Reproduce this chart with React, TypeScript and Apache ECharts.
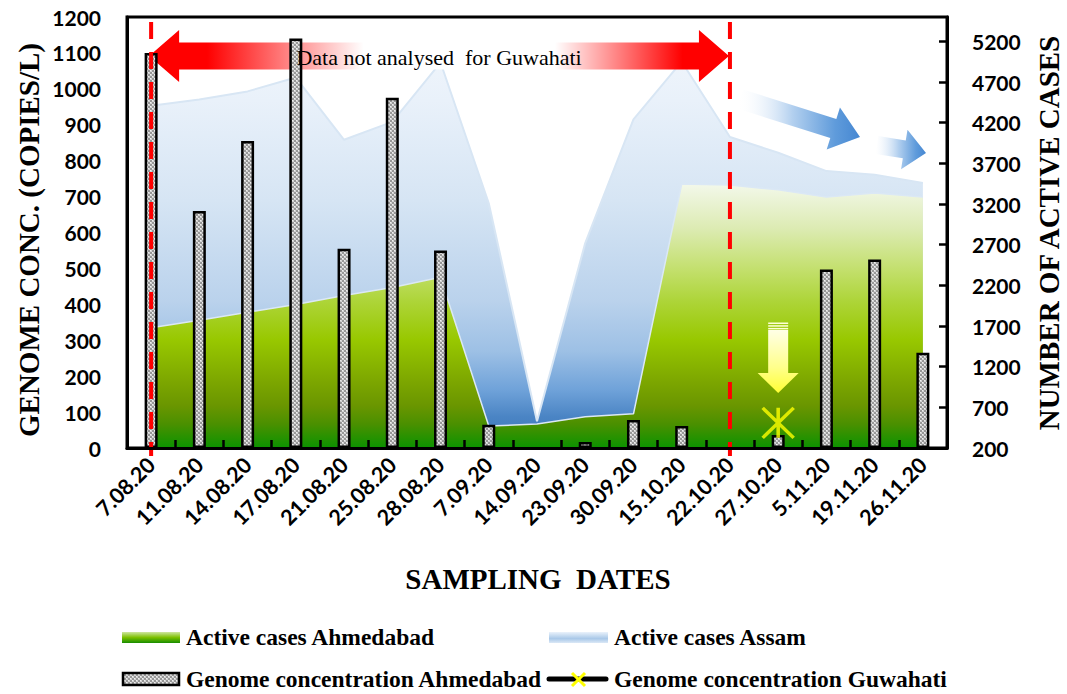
import React, { useEffect, useRef } from "react";
import * as echarts from "echarts";

const dates = [
  "7.08.20", "11.08.20", "14.08.20", "17.08.20", "21.08.20", "25.08.20", "28.08.20",
  "7.09.20", "14.09.20", "23.09.20", "30.09.20", "15.10.20", "22.10.20", "27.10.20",
  "5.11.20", "19.11.20", "26.11.20",
];
// Genome concentration (copies/L), left axis
const genomeAhmedabad = [1100, 660, 855, 1140, 555, 975, 550, 65, null, 17, 78, 61, null, 36, 497, 525, 265];
const genomeGuwahati = [null, null, null, null, null, null, null, null, null, null, null, null, null, 70, null, null, null];
// Active cases, right axis
const activeAhmedabad = [1680, 1770, 1870, 1965, 2075, 2175, 2300, 470, 495, 585, 620, 3445, 3435, 3375, 3285, 3335, 3285];
const activeAssam = [4410, 4485, 4585, 4755, 3990, 4210, 4940, 3210, 530, 2720, 4240, 4950, 4025, 3830, 3605, 3560, 3460];
// Axis scales
const leftAxisRange = [0, 1200, 100];
const rightAxisRange = [200, 5500, 500];

const SERIF = "Liberation Serif";
const SANS = "Lato";

function makeTile(): HTMLCanvasElement {
  const c = document.createElement("canvas");
  c.width = 4;
  c.height = 4;
  const ctx = c.getContext("2d")!;
  ctx.fillStyle = "#979797";
  ctx.fillRect(0, 0, 4, 4);
  ctx.fillStyle = "#d2d2d2";
  ctx.fillRect(0, 0, 2, 2);
  ctx.fillRect(2, 2, 2, 2);
  ctx.fillStyle = "#f0f0f0";
  ctx.fillRect(0, 0, 1, 1);
  ctx.fillRect(2, 2, 1, 1);
  return c;
}

function arrowPts(x1: number, y1: number, x2: number, y2: number, sw: number, hw: number, hl: number) {
  const dx = x2 - x1, dy = y2 - y1;
  const L = Math.hypot(dx, dy);
  const ux = dx / L, uy = dy / L;
  const nx = -uy, ny = ux;
  const bx = x2 - ux * hl, by = y2 - uy * hl;
  return [
    [x1 + (nx * sw) / 2, y1 + (ny * sw) / 2],
    [bx + (nx * sw) / 2, by + (ny * sw) / 2],
    [bx + (nx * hw) / 2, by + (ny * hw) / 2],
    [x2, y2],
    [bx - (nx * hw) / 2, by - (ny * hw) / 2],
    [bx - (nx * sw) / 2, by - (ny * sw) / 2],
    [x1 - (nx * sw) / 2, y1 - (ny * sw) / 2],
  ];
}

export default function App() {
  const ref = useRef<HTMLDivElement>(null);

  useEffect(() => {
    const chart = echarts.init(ref.current!, null, { renderer: "svg" });
    const tile = makeTile();
    const pattern: any = { image: tile, repeat: "repeat", imageWidth: 4, imageHeight: 4 };

    const blueGrad = new echarts.graphic.LinearGradient(0, 0, 0, 1, [
      { offset: 0, color: "#eef4fb" },
      { offset: 0.1, color: "#e9f1fa" },
      { offset: 0.36, color: "#d6e5f4" },
      { offset: 0.62, color: "#bad2ec" },
      { offset: 0.75, color: "#9dc0e5" },
      { offset: 0.85, color: "#6fa2d9" },
      { offset: 0.92, color: "#4a84c4" },
      { offset: 1, color: "#3a76b8" },
    ]);
    const greenGrad = new echarts.graphic.LinearGradient(0, 0, 0, 1, [
      { offset: 0, color: "#f3f8ea" },
      { offset: 0.17, color: "#dcebb2" },
      { offset: 0.33, color: "#c2df6a" },
      { offset: 0.44, color: "#aed53a" },
      { offset: 0.59, color: "#98c800" },
      { offset: 0.75, color: "#7ca600" },
      { offset: 0.84, color: "#6a9600" },
      { offset: 0.91, color: "#4a9000" },
      { offset: 1, color: "#0b9300" },
    ]);

    const labelFont = { color: "#000", fontFamily: SANS, fontWeight: "bold" as const };
    const plain = (v: number) => String(v);

    const option: any = {
      animation: false,
      backgroundColor: "#ffffff",
      grid: {
        left: 127, top: 17, width: 820, height: 431,
        show: true, borderColor: "#000", borderWidth: 3, backgroundColor: "transparent",
      },
      xAxis: {
        type: "category", data: dates, boundaryGap: true, z: 10,
        axisLine: { lineStyle: { color: "#000", width: 3 } },
        axisTick: { show: true, inside: true, length: 8, lineStyle: { color: "#000", width: 2.5 } },
        axisLabel: { ...labelFont, rotate: 45, interval: 0, fontSize: 21.5, margin: 13 },
        splitLine: { show: false },
      },
      yAxis: [
        {
          type: "value", min: leftAxisRange[0], max: leftAxisRange[1], interval: leftAxisRange[2],
          position: "left", z: 10,
          axisLine: { show: true, lineStyle: { color: "#000", width: 3 } },
          axisTick: { show: false }, splitLine: { show: false },
          axisLabel: { ...labelFont, fontSize: 21, margin: 26, formatter: plain },
        },
        {
          type: "value", min: rightAxisRange[0], max: rightAxisRange[1], interval: rightAxisRange[2],
          position: "right", z: 10,
          axisLine: { show: true, lineStyle: { color: "#000", width: 3 } },
          axisTick: { show: true, inside: true, length: 8, lineStyle: { color: "#000", width: 2.5 } },
          splitLine: { show: false },
          axisLabel: { ...labelFont, fontSize: 21, margin: 25, showMaxLabel: false, formatter: plain },
        },
      ],
      series: [
        {
          name: "Active cases Assam", type: "line", yAxisIndex: 1, data: activeAssam,
          symbol: "none", showSymbol: false, z: 1,
          lineStyle: { color: "#d8e6f4", width: 2 },
          areaStyle: { origin: "start", color: blueGrad, opacity: 1 },
        },
        {
          name: "Active cases Ahmedabad", type: "line", yAxisIndex: 1, data: activeAhmedabad,
          symbol: "none", showSymbol: false, z: 1,
          lineStyle: { color: "#dbe8f5", width: 1.5 },
          areaStyle: { origin: "start", color: greenGrad, opacity: 1 },
        },
        {
          name: "Genome concentration Ahmedabad", type: "bar", yAxisIndex: 0, data: genomeAhmedabad,
          barWidth: 13, z: 3,
          itemStyle: { color: pattern, borderColor: "#000", borderWidth: 2.5 },
        },
        {
          name: "Genome concentration Guwahati", type: "scatter", yAxisIndex: 0, data: genomeGuwahati,
          symbol: "path://M0 0L30 30M30 0L0 30M15 0L15 30", symbolSize: [31, 30], z: 6,
          itemStyle: { color: "rgba(0,0,0,0)", borderColor: "#ffff00", borderWidth: 3.5 },
        },
      ],
    };
    chart.setOption(option);

    const cx = (c: string) => chart.convertToPixel({ xAxisIndex: 0 }, c) as number;
    const xStart = cx(dates[0]);
    const xEnd = cx(dates[12]);
    const xGuw = cx(dates[13]);

    // Red double arrow
    const L = xStart - 2, R = xEnd - 1, yc = 56, sw = 27, hw = 52, hl = 30;
    const redPts = [
      [L, yc], [L + hl, yc - hw / 2], [L + hl, yc - sw / 2], [R - hl, yc - sw / 2], [R - hl, yc - hw / 2],
      [R, yc], [R - hl, yc + hw / 2], [R - hl, yc + sw / 2], [L + hl, yc + sw / 2], [L + hl, yc + hw / 2],
    ];
    const redGrad = new echarts.graphic.LinearGradient(0, 0, 1, 0, [
      { offset: 0, color: "#ff0000" },
      { offset: 0.1, color: "#ff0000" },
      { offset: 0.37, color: "#ffffff" },
      { offset: 0.7, color: "#ffffff" },
      { offset: 0.92, color: "#ff0000" },
      { offset: 1, color: "#ff0000" },
    ]);

    const blueArrowGrad = (a: number) =>
      new echarts.graphic.LinearGradient(0, 0, 1, 0, [
        { offset: 0, color: `rgba(255,255,255,${a})` },
        { offset: 0.45, color: "#b3d0ef" },
        { offset: 0.8, color: "#5f9bdb" },
        { offset: 1, color: "#4587d2" },
      ]);

    // Yellow arrow
    const yTop = 330, yBase = 373, yTip = 393, sHalf = 10, hHalf = 20.5;
    const yellowPts = [
      [xGuw - sHalf, yTop], [xGuw + sHalf, yTop], [xGuw + sHalf, yBase], [xGuw + hHalf, yBase],
      [xGuw, yTip], [xGuw - hHalf, yBase], [xGuw - sHalf, yBase],
    ];
    const yellowGrad = new echarts.graphic.LinearGradient(0, 0, 0, 1, [
      { offset: 0, color: "#ffffe6" },
      { offset: 0.6, color: "#ffff8a" },
      { offset: 1, color: "#ffff33" },
    ]);

    const titleStyle = { fill: "#000", fontFamily: SERIF, fontWeight: "bold", align: "center", verticalAlign: "middle" };
    const legendText = { fill: "#000", fontFamily: SERIF, fontWeight: "bold", fontSize: 23.5, verticalAlign: "middle", align: "left" };

    const elements: any[] = [
      { type: "polygon", z: 2, shape: { points: redPts }, style: { fill: redGrad } },
      {
        type: "text", z: 8, x: (L + R) / 2, y: yc + 1,
        style: { text: "Data not analysed  for Guwahati", fill: "#000", fontFamily: SERIF, fontSize: 22, align: "center", verticalAlign: "middle" },
      },
      { type: "polygon", z: 2, shape: { points: arrowPts(740, 99, 860, 137, 20, 44, 28) }, style: { fill: blueArrowGrad(0) } },
      { type: "polygon", z: 2, shape: { points: arrowPts(877, 145, 926, 153, 18, 40, 22) }, style: { fill: blueArrowGrad(0.3) } },
      // dashed red lines
      { type: "line", z: 7, shape: { x1: xStart, y1: 22, x2: xStart, y2: 456 }, style: { stroke: "#ff0000", lineWidth: 4, lineDash: [17, 13] } },
      { type: "line", z: 7, shape: { x1: xEnd, y1: 22, x2: xEnd, y2: 456 }, style: { stroke: "#ff0000", lineWidth: 4, lineDash: [17, 13] } },
      // yellow arrow
      { type: "polygon", z: 7, shape: { points: yellowPts }, style: { fill: yellowGrad } },
      { type: "rect", z: 7, shape: { x: xGuw - sHalf, y: 322.5, width: sHalf * 2, height: 1.5 }, style: { fill: "#ffffd6" } },
      { type: "rect", z: 7, shape: { x: xGuw - sHalf, y: 325.2, width: sHalf * 2, height: 1.5 }, style: { fill: "#ffffd6" } },
      { type: "rect", z: 7, shape: { x: xGuw - sHalf, y: 327.9, width: sHalf * 2, height: 1.5 }, style: { fill: "#ffffd6" } },
      // axis titles
      { type: "text", z: 8, x: 29, y: 240, rotation: Math.PI / 2, style: { ...titleStyle, text: "GENOME CONC. (COPIES/L)", fontSize: 29 } },
      { type: "text", z: 8, x: 1049, y: 233, rotation: Math.PI / 2, style: { ...titleStyle, text: "NUMBER OF ACTIVE CASES", fontSize: 29 } },
      { type: "text", z: 8, x: 538, y: 579, style: { ...titleStyle, text: "SAMPLING  DATES", fontSize: 29 } },
      // legend
      {
        type: "rect", z: 8, shape: { x: 122, y: 632, width: 58, height: 11 },
        style: {
          fill: new echarts.graphic.LinearGradient(0, 0, 0, 1, [
            { offset: 0, color: "#cfe6a0" }, { offset: 0.5, color: "#7cc000" }, { offset: 1, color: "#178d00" },
          ]),
        },
      },
      { type: "text", z: 8, x: 186, y: 637, style: { ...legendText, text: "Active cases Ahmedabad" } },
      {
        type: "rect", z: 8, shape: { x: 549, y: 632, width: 59, height: 11 },
        style: {
          fill: new echarts.graphic.LinearGradient(0, 0, 0, 1, [
            { offset: 0, color: "#eaf2fb" }, { offset: 0.6, color: "#a9c8e8" }, { offset: 1, color: "#dbe8f6" },
          ]),
        },
      },
      { type: "text", z: 8, x: 614, y: 637, style: { ...legendText, text: "Active cases Assam" } },
      { type: "rect", z: 8, shape: { x: 123, y: 673, width: 56, height: 12 }, style: { fill: pattern, stroke: "#000", lineWidth: 2.5 } },
      { type: "text", z: 8, x: 186, y: 679, style: { ...legendText, text: "Genome concentration Ahmedabad" } },
      { type: "line", z: 8, shape: { x1: 549, y1: 679, x2: 606, y2: 679 }, style: { stroke: "#000", lineWidth: 5, lineCap: "round" } },
      { type: "line", z: 9, shape: { x1: 572, y1: 673, x2: 585, y2: 686 }, style: { stroke: "#ffff00", lineWidth: 3 } },
      { type: "line", z: 9, shape: { x1: 585, y1: 673, x2: 572, y2: 686 }, style: { stroke: "#ffff00", lineWidth: 3 } },
      { type: "text", z: 8, x: 614, y: 679, style: { ...legendText, text: "Genome concentration Guwahati" } },
    ];
    chart.setOption({ graphic: { elements } });

    return () => chart.dispose();
  }, []);

  return (
    <div
      ref={ref}
      style={{ position: "fixed", left: 0, top: 0, width: 1067, height: 694, background: "#fff" }}
    />
  );
}
